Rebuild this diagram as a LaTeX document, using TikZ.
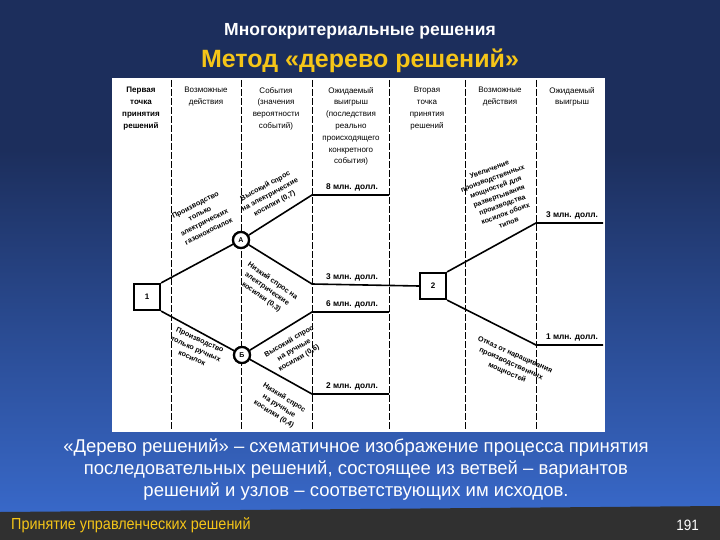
\documentclass[tikz,border=0pt]{standalone}
\usepackage{fontspec}
\setmainfont{Liberation Sans}
\definecolor{navy}{RGB}{28,46,92}
\definecolor{lblue}{RGB}{56,104,200}
\definecolor{gold}{RGB}{245,197,24}
\definecolor{footgray}{RGB}{48,48,48}
\begin{document}
\begin{tikzpicture}[x=1pt,y=-1pt,
  hdr/.style={font=\fontsize{8}{11.8}\selectfont,align=center,anchor=north,inner sep=0pt},
  lab/.style={font=\fontsize{7.2}{9.8}\selectfont\bfseries,align=center,inner sep=0pt},
  pay/.style={font=\fontsize{8.3}{10}\selectfont\bfseries,inner sep=0pt,anchor=south},
  sep/.style={line width=0.9pt,dash pattern=on 7pt off 2pt},
  br/.style={line width=1.6pt},
  dbox/.style={draw,line width=2.2pt,minimum size=26pt,inner sep=0pt,font=\fontsize{8}{9}\selectfont\bfseries},
  chance/.style={draw,fill=white,circle,line width=2.2pt,minimum size=16pt,inner sep=0pt,font=\fontsize{7}{8}\selectfont\bfseries}]
\useasboundingbox (0,0) rectangle (720,540);
\fill[navy] (0,0) rectangle (720,150);
\shade[top color=navy,bottom color=lblue] (0,149.5) rectangle (720,512);
\fill[footgray] (0,512) -- (720,506) -- (720,540) -- (0,540) -- cycle;
\node[text=white,font=\bfseries\fontsize{17.5}{19}\selectfont] (t1) at (360,31) {Многокритериальные решения};
\node[text=gold,font=\bfseries\fontsize{25}{27}\selectfont] (t2) at (360,61) {Метод «дерево решений»};
\fill[white] (112,78) rectangle (605,432);
% separators
\foreach \xx in {171,241,312,389,465,536} \draw[sep] (\xx,80) -- (\xx,430);
% headers
\node[hdr] (h1) at (141,87) {\bfseries Первая\\\bfseries точка\\\bfseries принятия\\\bfseries решений};
\node[hdr] (h2) at (206,87) {Возможные\\действия};
\node[hdr] (h3) at (276,87) {События\\(значения\\вероятности\\событий)};
\node[hdr] (h4) at (351,87) {Ожидаемый\\выигрыш\\(последствия\\реально\\происходящего\\конкретного\\события)};
\node[hdr] (h5) at (427,87) {Вторая\\точка\\принятия\\решений};
\node[hdr] (h6) at (500,87) {Возможные\\действия};
\node[hdr] (h7) at (572,87) {Ожидаемый\\выигрыш};
% nodes
\node[dbox] (n1) at (147,297) {1};
\node[chance] (A) at (241,240) {А};
\node[chance] (B) at (242,355) {Б};
\node[dbox] (n2) at (433,286) {2};
\coordinate (a1) at (312,195); \coordinate (a1e) at (389,195);
\coordinate (a2) at (312,284);
\coordinate (b1) at (312,312); \coordinate (b1e) at (389,312);
\coordinate (b2) at (312,394); \coordinate (b2e) at (389,394);
\coordinate (c1) at (536,223); \coordinate (c1e) at (603,223);
\coordinate (c2) at (536,345); \coordinate (c2e) at (603,345);
\draw[br] (n1.north east) -- (A);
\draw[br] (n1.south east) -- (B);
\draw[br] (A) -- (a1) -- (a1e);
\draw[br] (A) -- (a2) -- (n2.west);
\draw[br] (B) -- (b1) -- (b1e);
\draw[br] (B) -- (b2) -- (b2e);
\draw[br] (n2.north east) -- (c1) -- (c1e);
\draw[br] (n2.south east) -- (c2) -- (c2e);
\node[chance] at (A) {А};
\node[chance] at (B) {Б};
% payoffs
\node[pay] (p1) at (352,191) {8 млн. долл.};
\node[pay] (p2) at (352,281) {3 млн. долл.};
\node[pay] (p3) at (352,308) {6 млн. долл.};
\node[pay] (p4) at (352,390) {2 млн. долл.};
\node[pay] (p5) at (572,219) {3 млн. долл.};
\node[pay] (p6) at (572,341) {1 млн. долл.};
% branch labels
\node[lab,rotate=27] (l1) at (202,218) {Производство\\только\\электрических\\газонокосилок};
\node[lab,rotate=28] (l2) at (270,195) {Высокий спрос\\на электрические\\косилки (0,7)};
\node[lab,rotate=-35] (l3) at (267,289) {Низкий спрос на\\электрические\\косилки (0,3)};
\node[lab,rotate=-24] (l4) at (196,349) {Производство\\только ручных\\косилок};
\node[lab,rotate=30] (l5) at (294,350) {Высокий спрос\\на ручные\\косилки (0,6)};
\node[lab,rotate=-32] (l6) at (279,406) {Низкий спрос\\на ручные\\косилки (0,4)};
\node[lab,rotate=20,font=\fontsize{7}{9.4}\selectfont\bfseries] (l7) at (499,196) {Увеличение\\производственных\\мощностей для\\развертывания\\производства\\косилок обоих\\типов};
\node[lab,rotate=-24] (l8) at (511,364) {Отказ от наращивания\\производственных\\мощностей};
% caption
\node[text=white,align=center,font=\fontsize{18.5}{22}\selectfont] (cap) at (356,470) {«Дерево решений» – схематичное изображение процесса принятия\\последовательных решений, состоящее из ветвей – вариантов\\решений и узлов – соответствующих им исходов.};
\node[text=gold,anchor=west,font=\fontsize{16}{18}\selectfont,xscale=0.9] (f1) at (8,525) {Принятие управленческих решений};
\node[text=white,anchor=east,font=\fontsize{15}{17}\selectfont,xscale=0.9] (f2) at (702,525) {191};
\end{tikzpicture}
\end{document}
